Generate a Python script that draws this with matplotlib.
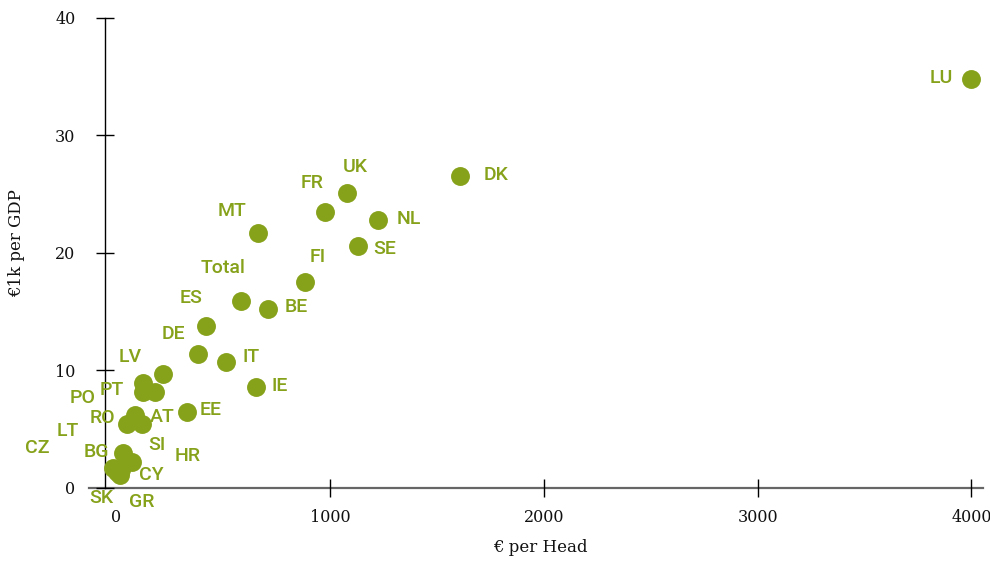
import matplotlib
matplotlib.use("Agg")
import matplotlib.pyplot as plt

# country codes, € per head (x), €1k per GDP (y)
countries = ["LU", "DK", "UK", "FR", "NL", "SE", "MT", "FI", "Total", "BE",
             "ES", "DE", "IT", "IE", "EE", "LV", "PT", "PO", "AT", "RO",
             "LT", "SI", "BG", "HR", "CZ", "CY", "SK", "GR"]
per_head = [4000, 1608, 1079, 976, 1224, 1131, 663, 883, 583, 710,
            420, 382, 513, 654, 331, 219, 126, 126, 181, 88,
            50, 121, 32, 74, -12, 18, 4, 23]
per_gdp = [34.8, 26.5, 25.1, 23.5, 22.8, 20.6, 21.7, 17.5, 15.9, 15.2,
           13.8, 11.4, 10.7, 8.6, 6.4, 9.7, 8.9, 8.1, 8.1, 6.2,
           5.4, 5.4, 2.9, 2.2, 1.7, 1.1, 1.3, 1.5]

# label offsets in pixels (dx right, dy down)
label_dx = [-30, 36, 9, -13, 31, 27, -26, 13, -18, 28,
            -15, -24, 25, 24, 24, -33, -31, -60, 8, -32,
            -59, 15, -26, 56, -76, 32, -15, 21]
label_dy = [-1, -1, -26, -29, -1, 3, -22, -25, -33, -2,
            -28, -20, -5, -1, -2, -17, 7, 6, 25, 3,
            7, 21, -1, -6, -20, 0, 26, 32]

x_ticks = [0, 1000, 2000, 3000, 4000]
y_ticks = [0, 10, 20, 30, 40]

green = "#86a11a"
serif = "DejaVu Serif"

fig = plt.figure(figsize=(9.9, 5.61), dpi=100)
W, H = 990, 561
ax = fig.add_axes([89 / W, (H - 487.5) / H, (983 - 89) / W, (487.5 - 18) / H])
ax.set_xlim(-126, 4054)
ax.set_ylim(0, 40)

ax.scatter(per_head, per_gdp, s=185, color=green, linewidths=0,
           zorder=3, clip_on=False)

for name, x, y, dx, dy in zip(countries, per_head, per_gdp, label_dx, label_dy):
    ax.annotate(name, (x, y), xytext=(dx, -dy), textcoords="offset pixels",
                ha="center", va="center", color=green, fontsize=14,
                family="Roboto", fontweight="medium", annotation_clip=False)

for side in ["top", "right"]:
    ax.spines[side].set_visible(False)
ax.spines["left"].set_position(("data", -52))
ax.spines["left"].set_bounds(0, 40)
ax.spines["left"].set_color("black")
ax.spines["left"].set_linewidth(1)
ax.spines["bottom"].set_color("#666666")
ax.spines["bottom"].set_linewidth(1.6)
ax.spines["bottom"].set_zorder(1)

ax.set_xticks(x_ticks)
ax.set_yticks(y_ticks)
ax.tick_params(axis="both", direction="inout", length=13.5, width=1,
               colors="black", labelsize=11.5)
ax.tick_params(axis="y", pad=14.5)
ax.tick_params(axis="x", pad=8.5)
ax.xaxis.get_major_ticks()[0].tick1line.set_visible(False)
for lbl in ax.get_xticklabels() + ax.get_yticklabels():
    lbl.set_family(serif)
    lbl.set_color("#111111")

fig.text(540 / W, 1 - 548 / H, "€ per Head", ha="center", va="center",
         family=serif, fontsize=12, color="#111111")
fig.text(17 / W, 1 - 243 / H, "€1k per GDP", ha="center", va="center",
         rotation=90, family=serif, fontsize=12, color="#111111")

fig.savefig("out.png", dpi=100)
